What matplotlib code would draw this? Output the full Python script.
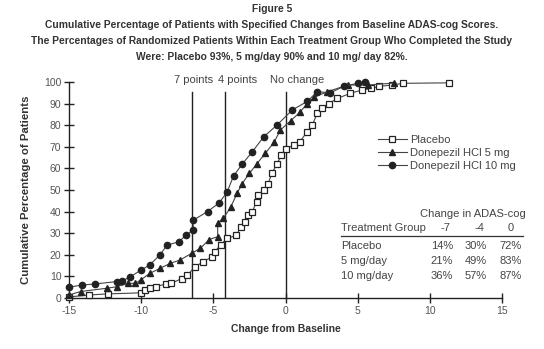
import matplotlib
matplotlib.use("Agg")
import matplotlib.pyplot as plt
from matplotlib import font_manager

names = {f.name for f in font_manager.fontManager.ttflist}
NARROW = 'Liberation Sans Narrow' if 'Liberation Sans Narrow' in names else 'Liberation Sans'
FAM = [NARROW, 'DejaVu Sans']
plt.rcParams['font.family'] = FAM
plt.rcParams['axes.unicode_minus'] = False

# ---- data ----
placebo_x = [-15, -13.6, -12.3, -10.0, -9.7, -9.4, -9.0, -8.3, -7.9, -7.2, -6.8, -6.25, -5.7, -5.1, -4.9,
             -4.5, -4.05, -3.4, -3.1, -2.8, -2.6, -2.3, -2.0, -1.9, -1.5, -1.2, -0.95, -0.6, -0.3, 0.0,
             0.6, 1.0, 1.5, 1.85, 2.2, 2.5, 3.0, 3.6, 4.5, 5.3, 5.9, 6.5, 7.4, 8.15, 11.3]
placebo_y = [0.5, 1.4, 1.9, 2.4, 3.7, 4.5, 5.2, 6.5, 6.8, 9.0, 10.6, 14.5, 16.8, 19.1, 21.4,
             24.5, 27.6, 29.0, 33.0, 35.4, 38.4, 40.0, 44.6, 47.7, 50.0, 53.0, 57.7, 62.0, 66.0, 69.0,
             70.8, 72.4, 77.0, 80.0, 85.5, 87.8, 90.0, 92.4, 94.8, 96.3, 97.0, 98.0, 98.6, 99.4, 99.6]

mg5_x = [-15, -14.2, -12.4, -11.7, -10.9, -10.4, -10.0, -9.4, -8.7, -8.0, -7.3, -6.5, -5.9, -5.3, -4.7,
         -4.7, -4.3, -3.8, -3.35, -3.0, -2.5, -2.0, -1.4, -0.8, -0.35, 0.35, 1.0, 1.5, 2.0, 2.9,
         4.3, 5.7, 7.5]
mg5_y = [1.4, 3.0, 4.5, 5.2, 6.8, 6.8, 8.5, 11.4, 13.7, 16.0, 17.6, 20.7, 23.0, 27.0, 28.4,
         34.6, 37.0, 42.0, 48.5, 53.0, 57.7, 62.0, 67.0, 72.0, 77.8, 82.0, 86.0, 90.0, 93.0, 95.5,
         98.6, 98.6, 99.5]

mg10_x = [-15, -14.1, -13.2, -11.7, -11.3, -10.8, -10.0, -9.4, -8.7, -8.2, -7.4, -6.9, -6.4, -6.4,
          -5.4, -4.6, -4.05, -3.6, -3.0, -2.3, -1.5, -0.6, 0.46, 1.5, 2.2, 3.1, 4.05, 5.0, 5.5]
mg10_y = [5.0, 6.0, 6.5, 7.6, 8.0, 9.6, 13.0, 15.3, 20.0, 24.5, 26.0, 29.0, 31.5, 36.0,
          40.0, 44.0, 49.0, 56.5, 62.0, 67.7, 74.7, 80.0, 87.0, 91.0, 95.5, 95.0, 98.0, 99.4, 100.0]

series_labels = ['Placebo', 'Donepezil HCl 5 mg', 'Donepezil HCl 10 mg']
ref_x = [-6.5, -4.2, 0]
ref_labels = ['7 points', '4 points', 'No change']
ref_label_x = [-6.35, -3.3, 0.8]

xticks = [-15, -10, -5, 0, 5, 10, 15]
yticks = list(range(0, 101, 10))

table_header = ['-7', '-4', '0']
table_groups = ['Placebo', '5 mg/day', '10 mg/day']
table_vals = [['14%', '30%', '72%'], ['21%', '49%', '83%'], ['36%', '57%', '87%']]

# ---- figure ----
fig = plt.figure(figsize=(5.44, 3.49), dpi=100)
ax = fig.add_axes([69/544, 1-298/349, (502-69)/544, (298-82)/349])
ax.set_xlim(-15, 15)
ax.set_ylim(0, 100)

ax.plot(placebo_x, placebo_y, color='#444444', lw=0.8, marker='s', ms=5.0, mfc='white',
        mec='#222222', mew=0.9, clip_on=False, label=series_labels[0], zorder=3)
ax.plot(mg5_x, mg5_y, color='#444444', lw=0.8, marker='^', ms=4.2, mfc='#222222',
        mec='#222222', clip_on=False, label=series_labels[1], zorder=4)
ax.plot(mg10_x, mg10_y, color='#444444', lw=0.8, marker='o', ms=4.5, mfc='#222222',
        mec='#222222', clip_on=False, label=series_labels[2], zorder=5)

for xv, lab, lx in zip(ref_x, ref_labels, ref_label_x):
    ax.plot([xv, xv], [0, 95.4], color='#222222', lw=1.0, zorder=2)
    ax.text(lx, 101, lab, ha='center', va='center', fontsize=8, color='#444444')

for s in ['top', 'right']:
    ax.spines[s].set_visible(False)
for s in ['left', 'bottom']:
    ax.spines[s].set_color('#222222')
    ax.spines[s].set_linewidth(1.0)
ax.set_xticks(xticks)
ax.set_yticks(yticks)
ax.tick_params(direction='inout', length=7, width=1.0, color='#222222',
               labelsize=7.5, labelcolor='#555555', pad=2)

ax.set_xlabel('Change from Baseline', fontsize=7.5, fontweight='bold', color='#333333', labelpad=6)
ax.set_ylabel('Cumulative Percentage of Patients', fontsize=8.2, fontweight='bold', color='#333333',
              labelpad=9)

leg = ax.legend(loc='upper left', bbox_to_anchor=(0.70, 0.78), frameon=False, fontsize=8,
                handlelength=2.6, handletextpad=0.3, labelspacing=0.25, borderpad=0)
for t in leg.get_texts():
    t.set_color('#444444')

# title
title_lines = ['Figure 5',
               'Cumulative Percentage of Patients with Specified Changes from Baseline ADAS-cog Scores.',
               'The Percentages of Randomized Patients Within Each Treatment Group Who Completed the Study',
               'Were: Placebo 93%, 5 mg/day 90% and 10 mg/ day 82%.']
for i, line in enumerate(title_lines):
    fig.text(0.5, 1 - (9 + 16*i)/349, line, ha='center', va='center', fontsize=7.4,
             fontweight='bold', color='#333333')

# inset table
def px(xp, yp):
    return xp/544, 1 - yp/349

tc = '#444444'
fig.text(*px(473, 214), 'Change in ADAS-cog', ha='center', va='center', fontsize=8, color=tc)
fig.text(*px(341, 228), 'Treatment Group', ha='left', va='center', fontsize=8, color=tc)
col_right = [453, 487, 522]
col_center = [445, 479, 511]
for c, h in zip(col_center, table_header):
    fig.text(*px(c, 228), h, ha='center', va='center', fontsize=8, color=tc)
fig.add_artist(plt.Line2D([341/544, 523/544], [1-236/349, 1-236/349], color='#333333', lw=0.9))
for r, (g, vals) in enumerate(zip(table_groups, table_vals)):
    yp = 246 + 15*r
    fig.text(*px(341, yp), g, ha='left', va='center', fontsize=8, color=tc)
    for c, v in zip(col_right, vals):
        fig.text(*px(c, yp), v, ha='right', va='center', fontsize=8, color=tc)

fig.savefig('out.png', dpi=100)
